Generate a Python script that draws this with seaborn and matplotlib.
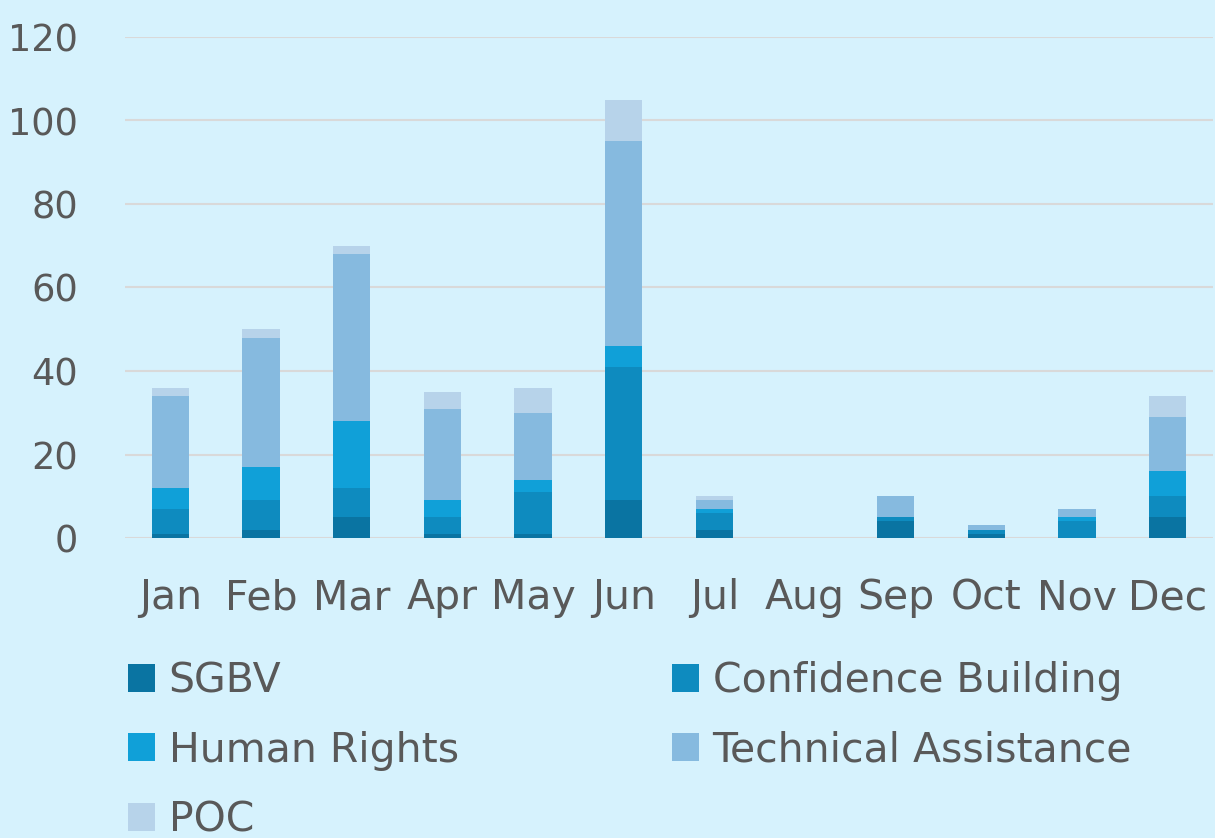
import matplotlib
matplotlib.use("Agg")
import matplotlib.pyplot as plt
import seaborn as sns
import numpy as np
from matplotlib.patches import Patch

# Data
months = ["Jan", "Feb", "Mar", "Apr", "May", "Jun", "Jul", "Aug", "Sep", "Oct", "Nov", "Dec"]
sgbv = [1, 2, 5, 1, 1, 9, 2, 0, 4, 1, 0, 5]
confidence_building = [6, 7, 7, 4, 10, 32, 4, 0, 1, 1, 4, 5]
human_rights = [5, 8, 16, 4, 3, 5, 1, 0, 0, 0, 1, 6]
technical_assistance = [22, 31, 40, 22, 16, 49, 2, 0, 5, 1, 2, 13]
poc = [2, 2, 2, 4, 6, 10, 1, 0, 0, 0, 0, 5]

series_names = ["SGBV", "Confidence Building", "Human Rights", "Technical Assistance", "POC"]
series_values = [sgbv, confidence_building, human_rights, technical_assistance, poc]
series_colors = ["#0a74a2", "#0e8bbf", "#10a0d8", "#86badf", "#b7d3ea"]

BG = "#d6f2fd"
TEXT = "#595959"
Y_FONT = 26.5
X_FONT = 29.5
LEG_FONT = 29.5

sns.set_theme(style="white")
plt.rcParams["font.family"] = ["DejaVu Sans"]

fig = plt.figure(figsize=(12.15, 8.38), dpi=100, facecolor=BG)
ax = fig.add_axes([125 / 1215, 1 - 538 / 838, 1088 / 1215, 501 / 838])
ax.set_facecolor(BG)

# stack the series one on top of the other
bottom = np.zeros(len(months))
for name, vals, col in zip(series_names, series_values, series_colors):
    sns.barplot(x=months, y=vals, bottom=bottom, color=col, width=0.41,
                saturation=1, ax=ax, zorder=3, linewidth=0)
    bottom = bottom + np.array(vals)

ax.set_ylim(0, 120)
ax.set_xlim(-0.5, 11.5)
ax.set_yticks(range(0, 121, 20))
ax.yaxis.grid(True, color="#d9d9d9", linewidth=1.5, zorder=0)
ax.xaxis.grid(False)
for s in ax.spines.values():
    s.set_visible(False)
ax.tick_params(axis="both", length=0, colors=TEXT)
ax.tick_params(axis="y", pad=34, labelsize=Y_FONT)
ax.tick_params(axis="x", pad=29, labelsize=X_FONT)
ax.set_xlabel("")
ax.set_ylabel("")

handles = [Patch(facecolor=c, edgecolor="none") for c in series_colors]
leg_kw = dict(frameon=False, fontsize=LEG_FONT, labelcolor=TEXT, handlelength=0.67,
              handleheight=0.67, handletextpad=0.32, labelspacing=0.72, borderpad=0,
              borderaxespad=0, loc="upper left")
fig.legend([handles[0], handles[2], handles[4]], [series_names[0], series_names[2], series_names[4]],
           bbox_to_anchor=(128 / 1215, 1 - 661 / 838), **leg_kw)
fig.legend([handles[1], handles[3]], [series_names[1], series_names[3]],
           bbox_to_anchor=(672 / 1215, 1 - 661 / 838), **leg_kw)

fig.savefig("out.png", dpi=100, facecolor=BG)
